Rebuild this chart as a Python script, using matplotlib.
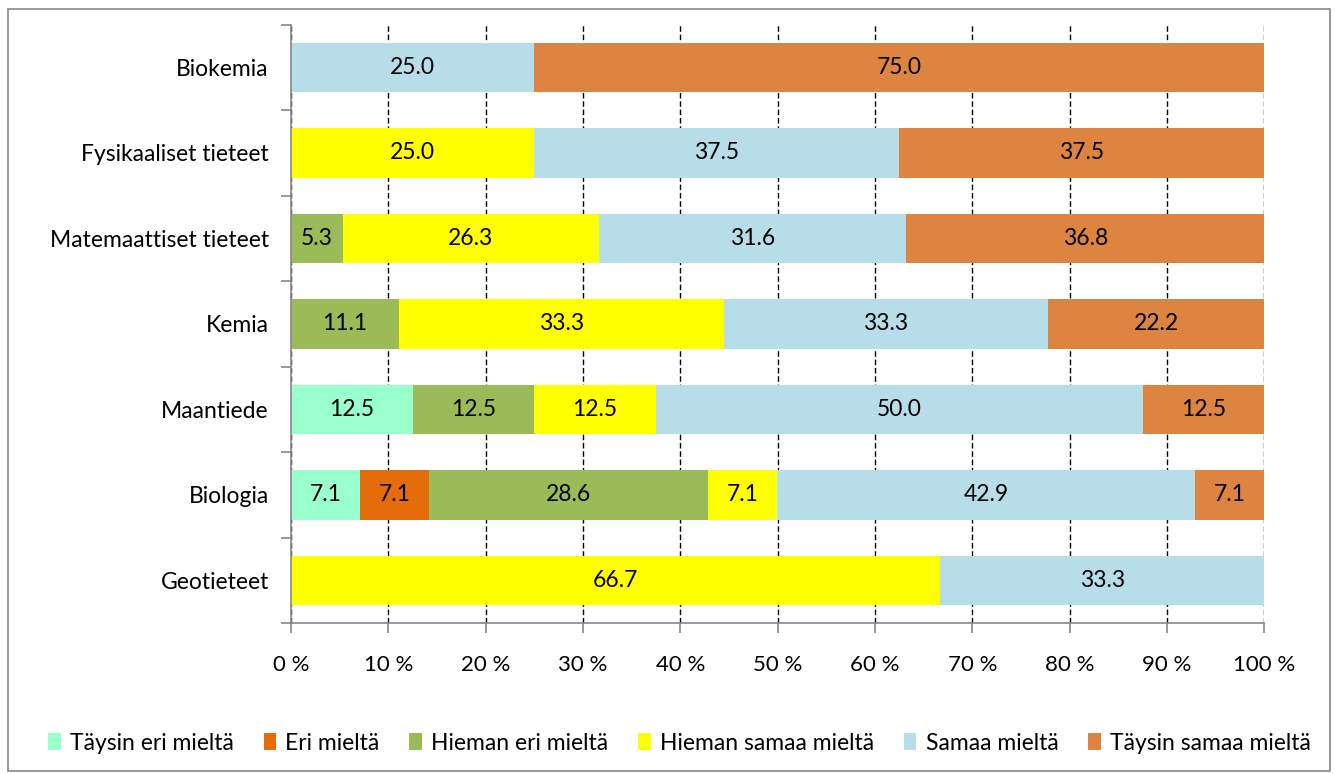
import numpy as np
import matplotlib
matplotlib.use('Agg')
import matplotlib.pyplot as plt
from matplotlib.patches import Rectangle

plt.rcParams['font.family'] = ['Lato', 'DejaVu Sans']

# data (top to bottom as shown)
categories = ['Biokemia', 'Fysikaaliset tieteet', 'Matemaattiset tieteet', 'Kemia',
              'Maantiede', 'Biologia', 'Geotieteet']
series_names = ['Täysin eri mieltä', 'Eri mieltä', 'Hieman eri mieltä',
                'Hieman samaa mieltä', 'Samaa mieltä', 'Täysin samaa mieltä']
taysin_eri = [0, 0, 0, 0, 12.5, 7.1, 0]
eri = [0, 0, 0, 0, 0, 7.1, 0]
hieman_eri = [0, 0, 5.3, 11.1, 12.5, 28.6, 0]
hieman_samaa = [0, 25.0, 26.3, 33.3, 12.5, 7.1, 66.7]
samaa = [25.0, 37.5, 31.6, 33.3, 50.0, 42.9, 33.3]
taysin_samaa = [75.0, 37.5, 36.8, 22.2, 12.5, 7.1, 0]
colors = ['#99FFCC', '#E46C0A', '#9BBB59', '#FFFF00', '#B7DEE8', '#DD8440']

values = np.array([taysin_eri, eri, hieman_eri, hieman_samaa, samaa, taysin_samaa])
shares = values / values.sum(axis=0) * 100

fig = plt.figure(figsize=(13.35, 7.74), dpi=100)
ax = fig.add_axes([0.218, 0.195, 0.729, 0.773])

y = np.arange(len(categories))
left = np.zeros(len(categories))
for i, name in enumerate(series_names):
    bars = ax.barh(y, shares[i], left=left, height=0.58, color=colors[i],
                   label=name, zorder=2)
    for j, b in enumerate(bars):
        if values[i, j] > 0:
            ax.text(left[j] + shares[i, j] / 2, y[j], f'{values[i, j]:.1f}',
                    ha='center', va='center', fontsize=16.5, color='black', zorder=3)
    left += shares[i]

ax.set_xlim(0, 100)
ax.set_ylim(len(categories) - 0.5, -0.5)
ax.set_xticks(np.arange(0, 101, 10))
ax.set_xticklabels([f'{v} %' for v in range(0, 101, 10)], fontsize=16)
ax.set_yticks(y)
ax.set_yticklabels(categories, fontsize=16.5)
ax.tick_params(axis='y', length=0, pad=16)
ax.set_yticks(np.arange(-0.5, len(categories)), minor=True)
ax.tick_params(axis='y', which='minor', length=7, color='#888888', width=1.2)
ax.tick_params(axis='x', length=7, color='#888888', width=1.2, pad=16)
ax.xaxis.grid(True, linestyle=(0, (4, 2)), color='black', linewidth=1, zorder=0)
ax.set_axisbelow(True)
for s in ['top', 'right']:
    ax.spines[s].set_visible(False)
for s in ['left', 'bottom']:
    ax.spines[s].set_color('#888888')
    ax.spines[s].set_linewidth(1.2)

fig.legend(loc='center', bbox_to_anchor=(0.509, 0.04), ncol=6, frameon=False,
           fontsize=16.5, handlelength=0.55, handleheight=0.8, handletextpad=0.4,
           columnspacing=1.3)

fig.patches.append(Rectangle((0.006, 0.004), 0.99, 0.984, transform=fig.transFigure,
                             fill=False, edgecolor='#888888', linewidth=1.2))

fig.savefig('out.png', dpi=100)
